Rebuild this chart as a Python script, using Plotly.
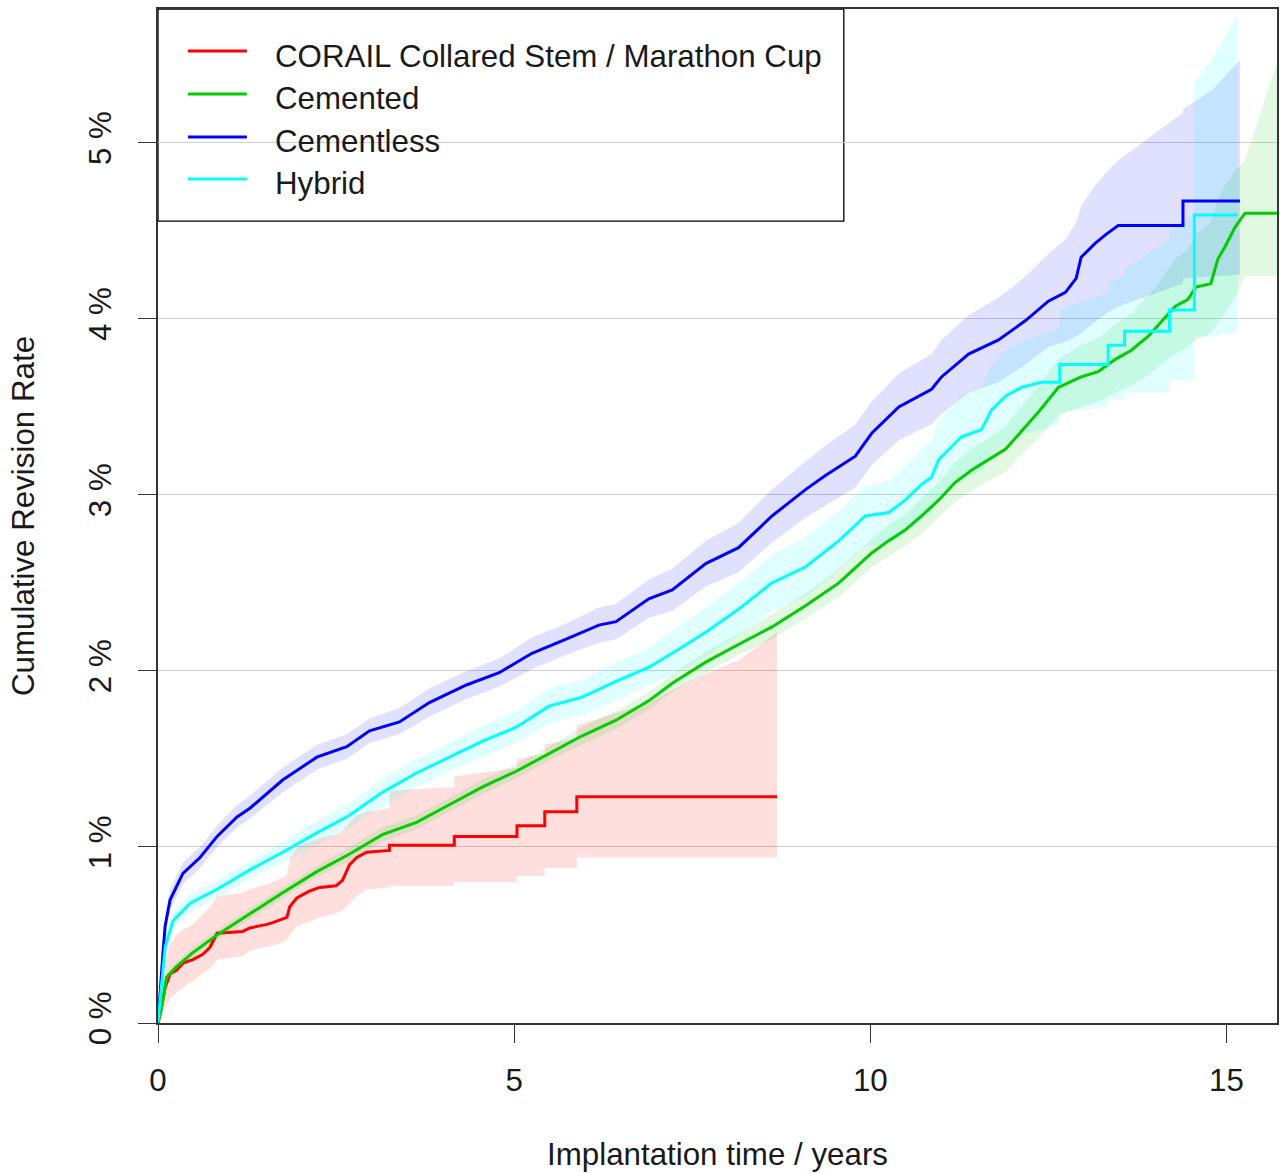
import plotly.graph_objects as go

# ---------------- data ----------------
series_names = ["CORAIL Collared Stem / Marathon Cup", "Cemented", "Cementless", "Hybrid"]
line_colors = ["#FF0000", "#00CD00", "#0000FF", "#00FFFF"]
band_colors = ["rgba(255,0,0,0.13)", "rgba(0,205,0,0.12)", "rgba(0,0,255,0.12)", "rgba(0,255,255,0.12)"]

# CORAIL Collared Stem / Marathon Cup
red_t = [0, 0.05, 0.10, 0.17, 0.26, 0.35, 0.49, 0.63, 0.73, 0.83, 1.19, 1.29, 1.53, 1.61, 1.81, 1.85,
         1.95, 2.13, 2.27, 2.50, 2.59, 2.69, 2.79, 2.93, 3.25, 3.25, 4.16, 4.16, 5.04, 5.04, 5.43, 5.43,
         5.88, 5.88, 6.89, 7.60, 8.15, 8.69]
red_est = [0, 0.09, 0.20, 0.28, 0.30, 0.34, 0.36, 0.39, 0.43, 0.51, 0.52, 0.54, 0.56, 0.57, 0.60, 0.66,
           0.71, 0.75, 0.77, 0.78, 0.81, 0.90, 0.94, 0.97, 0.98, 1.01, 1.01, 1.06, 1.06, 1.12, 1.12, 1.20,
           1.20, 1.285, 1.285, 1.285, 1.285, 1.285]
red_lo = [0, 0.02, 0.08, 0.14, 0.17, 0.20, 0.24, 0.28, 0.31, 0.36, 0.38, 0.41, 0.43, 0.44, 0.47, 0.50,
          0.55, 0.58, 0.60, 0.62, 0.64, 0.68, 0.72, 0.76, 0.77, 0.78, 0.78, 0.80, 0.80, 0.835, 0.835, 0.88,
          0.88, 0.94, 0.94, 0.94, 0.94, 0.94]
red_hi = [0, 0.20, 0.35, 0.45, 0.50, 0.53, 0.56, 0.62, 0.66, 0.72, 0.74, 0.76, 0.79, 0.80, 0.84, 0.93,
          1.00, 1.03, 1.05, 1.07, 1.09, 1.14, 1.18, 1.20, 1.22, 1.32, 1.34, 1.40, 1.45, 1.50, 1.53, 1.58,
          1.62, 1.69, 1.82, 1.97, 2.06, 2.22]

# Cemented
green_t = [0, 0.05, 0.12, 0.26, 0.49, 0.83, 1.29, 1.75, 2.23, 2.69, 3.15, 3.63, 4.09, 4.55, 5.03, 5.49,
           5.95, 6.43, 6.89, 7.22, 7.69, 8.15, 8.62, 9.09, 9.56, 10.02, 10.26, 10.49, 10.72, 10.96, 11.19,
           11.42, 11.66, 11.90, 12.12, 12.36, 12.64, 12.96, 13.20, 13.44, 13.66, 13.90, 14.08, 14.28, 14.46,
           14.57, 14.78, 14.88, 14.98, 15.12, 15.26, 15.50, 15.72]
green_est = [0, 0.09, 0.26, 0.32, 0.40, 0.50, 0.62, 0.74, 0.86, 0.96, 1.07, 1.14, 1.24, 1.34, 1.43, 1.53,
             1.63, 1.72, 1.83, 1.93, 2.05, 2.15, 2.25, 2.37, 2.50, 2.67, 2.74, 2.80, 2.88, 2.97, 3.07,
             3.14, 3.20, 3.26, 3.36, 3.47, 3.61, 3.67, 3.70, 3.77, 3.82, 3.90, 3.98, 4.07, 4.11,
             4.18, 4.20, 4.34, 4.41, 4.52, 4.60, 4.60, 4.60]
green_lo = [0, 0.06, 0.23, 0.29, 0.37, 0.47, 0.59, 0.71, 0.83, 0.92, 1.03, 1.10, 1.20, 1.30, 1.39, 1.49,
            1.58, 1.67, 1.78, 1.88, 1.99, 2.09, 2.18, 2.30, 2.42, 2.59, 2.65, 2.71, 2.78, 2.87, 2.96,
            3.02, 3.08, 3.13, 3.23, 3.32, 3.45, 3.50, 3.53, 3.58, 3.62, 3.68, 3.74, 3.80, 3.84,
            3.88, 3.92, 3.98, 4.03, 4.12, 4.24, 4.24, 4.24]
green_hi = [0, 0.12, 0.29, 0.35, 0.43, 0.53, 0.65, 0.77, 0.89, 1.00, 1.11, 1.18, 1.28, 1.38, 1.47, 1.57,
            1.68, 1.77, 1.88, 1.98, 2.11, 2.21, 2.32, 2.44, 2.58, 2.75, 2.83, 2.89, 2.98, 3.07, 3.18,
            3.26, 3.32, 3.39, 3.50, 3.62, 3.77, 3.85, 3.89, 3.97, 4.03, 4.13, 4.22, 4.34, 4.40,
            4.48, 4.55, 4.68, 4.76, 4.84, 4.90, 5.20, 5.47]

# Cementless
blue_t = [0, 0.03, 0.07, 0.10, 0.17, 0.35, 0.59, 0.83, 1.11, 1.29, 1.75, 2.23, 2.65, 2.97, 3.39, 3.81,
          4.33, 4.79, 5.25, 5.73, 6.19, 6.43, 6.89, 7.22, 7.69, 8.15, 8.62, 9.09, 9.37, 9.79, 10.02, 10.40,
          10.86, 11.00, 11.38, 11.80, 12.18, 12.50, 12.74, 12.89, 12.96, 13.16, 13.31, 13.48, 14.39, 14.39,
          14.80, 15.19]
blue_est = [0, 0.20, 0.40, 0.55, 0.70, 0.85, 0.94, 1.06, 1.17, 1.22, 1.38, 1.51, 1.57, 1.66, 1.71, 1.82,
            1.92, 1.99, 2.10, 2.18, 2.26, 2.28, 2.41, 2.46, 2.61, 2.70, 2.88, 3.03, 3.11, 3.22, 3.35, 3.50,
            3.60, 3.67, 3.80, 3.88, 3.99, 4.10, 4.15, 4.23, 4.35, 4.43, 4.48, 4.53, 4.53, 4.67,
            4.67, 4.67]
blue_lo = [0, 0.15, 0.34, 0.49, 0.64, 0.79, 0.88, 1.00, 1.11, 1.16, 1.31, 1.44, 1.50, 1.59, 1.64, 1.74,
           1.84, 1.91, 2.01, 2.09, 2.16, 2.18, 2.30, 2.34, 2.48, 2.56, 2.73, 2.87, 2.94, 3.04, 3.17, 3.31,
           3.40, 3.46, 3.58, 3.64, 3.74, 3.84, 3.87, 3.90, 3.92, 3.98, 4.03, 4.07, 4.20, 4.23,
           4.24, 4.25]
blue_hi = [0, 0.26, 0.46, 0.61, 0.76, 0.91, 1.00, 1.12, 1.24, 1.29, 1.45, 1.58, 1.64, 1.73, 1.79, 1.90,
           2.00, 2.07, 2.19, 2.27, 2.36, 2.38, 2.52, 2.58, 2.74, 2.84, 3.03, 3.19, 3.28, 3.40, 3.53, 3.69,
           3.80, 3.88, 4.02, 4.12, 4.24, 4.37, 4.45, 4.55, 4.64, 4.76, 4.83, 4.90, 5.17, 5.19,
           5.30, 5.47]

# Hybrid
cyan_t = [0, 0.05, 0.10, 0.21, 0.45, 0.83, 1.29, 1.75, 2.23, 2.69, 3.15, 3.63, 4.09, 4.55, 5.03, 5.49,
          5.95, 6.43, 6.89, 7.22, 7.69, 8.15, 8.62, 9.09, 9.56, 9.93, 10.26, 10.49, 10.72, 10.86, 10.96,
          11.14, 11.28, 11.56, 11.70, 11.90, 12.12, 12.40, 12.66, 12.66, 13.34, 13.34, 13.57, 13.57,
          14.20, 14.20, 14.55, 14.55, 14.75, 14.95, 15.16]
cyan_est = [0, 0.22, 0.43, 0.58, 0.68, 0.76, 0.87, 0.97, 1.08, 1.18, 1.31, 1.42, 1.51, 1.60, 1.68, 1.80,
            1.85, 1.94, 2.02, 2.10, 2.22, 2.35, 2.50, 2.59, 2.74, 2.88, 2.90, 2.97, 3.06, 3.10, 3.20,
            3.27, 3.33, 3.37, 3.48, 3.56, 3.61, 3.64, 3.64, 3.74, 3.74, 3.85, 3.85, 3.93,
            3.93, 4.05, 4.05, 4.59, 4.59, 4.59, 4.59]
cyan_lo = [0, 0.17, 0.38, 0.53, 0.63, 0.71, 0.82, 0.91, 1.01, 1.11, 1.23, 1.34, 1.43, 1.51, 1.59, 1.70,
           1.75, 1.83, 1.92, 1.98, 2.08, 2.20, 2.34, 2.42, 2.57, 2.71, 2.72, 2.78, 2.86, 2.89, 2.98,
           3.04, 3.09, 3.13, 3.23, 3.30, 3.34, 3.37, 3.40, 3.47, 3.50, 3.54, 3.54, 3.58,
           3.58, 3.65, 3.65, 3.90, 3.90, 3.91, 3.92]
cyan_hi = [0, 0.27, 0.48, 0.63, 0.73, 0.81, 0.92, 1.03, 1.15, 1.25, 1.39, 1.50, 1.59, 1.69, 1.77, 1.90,
           1.95, 2.05, 2.13, 2.23, 2.36, 2.50, 2.66, 2.76, 2.91, 3.05, 3.08, 3.16, 3.26, 3.31, 3.42,
           3.50, 3.57, 3.61, 3.73, 3.82, 3.87, 3.91, 3.95, 4.05, 4.15, 4.20, 4.25, 4.28,
           4.45, 4.50, 4.60, 5.34, 5.45, 5.58, 5.74]

series = [
    (red_t, red_est, red_lo, red_hi),
    (green_t, green_est, green_lo, green_hi),
    (blue_t, blue_est, blue_lo, blue_hi),
    (cyan_t, cyan_est, cyan_lo, cyan_hi),
]

y_ticks = [0, 1, 2, 3, 4, 5]
y_ticktext = ["0 %", "1 %", "2 %", "3 %", "4 %", "5 %"]
x_ticks = [0, 5, 10, 15]
x_ticktext = ["0", "5", "10", "15"]

FONT = "Liberation Sans, Arial, sans-serif"
TXT = "#1a1a1a"
FS = 31.3

fig = go.Figure()

# confidence bands (polygons)
for (t, est, lo, hi), col in zip(series, band_colors):
    fig.add_trace(go.Scatter(
        x=list(t) + list(t)[::-1], y=list(lo) + list(hi)[::-1],
        mode="lines", fill="toself", fillcolor=col, line=dict(width=0),
        hoverinfo="skip", showlegend=False))

# estimate lines
for (t, est, lo, hi), name, col in zip(series, series_names, line_colors):
    fig.add_trace(go.Scatter(
        x=t, y=est, mode="lines", name=name,
        line=dict(color=col, width=3), showlegend=False))

# ---- legend box drawn like the R legend (paper coordinates) ----
leg_line_y = [0.9586, 0.9162, 0.8738, 0.8323]
leg_text_y = [0.9527, 0.9117, 0.8698, 0.8284]
shapes = [dict(type="rect", xref="paper", yref="paper",
               x0=0, x1=0.6129, y0=0.7909, y1=1.0,
               line=dict(color="black", width=1.3), fillcolor="white", layer="between")]
annotations = []
for name, col, ly, ty in zip(series_names, line_colors, leg_line_y, leg_text_y):
    shapes.append(dict(type="line", xref="paper", yref="paper",
                       x0=0.0268, x1=0.0794, y0=ly, y1=ly,
                       line=dict(color=col, width=3), layer="above"))
    annotations.append(dict(text=name, xref="paper", yref="paper", x=0.1026, y=ty,
                            xanchor="left", yanchor="middle", showarrow=False,
                            font=dict(family=FONT, size=FS, color=TXT)))

fig.update_layout(
    width=1285, height=1173,
    margin=dict(l=158, r=6, t=9, b=150),
    paper_bgcolor="white", plot_bgcolor="white",
    font=dict(family=FONT, size=FS, color=TXT),
    showlegend=False,
    shapes=shapes, annotations=annotations,
    xaxis=dict(
        range=[0, 15.71], tickmode="array", tickvals=x_ticks, ticktext=x_ticktext,
        ticks="outside", ticklen=18, tickwidth=1.3, tickcolor="#333",
        showline=True, linecolor="#333", linewidth=1.5, mirror=True,
        showgrid=False, zeroline=False,
        tickfont=dict(family=FONT, size=FS, color=TXT), ticklabelstandoff=11,
        title=dict(text="Implantation time / years", font=dict(family=FONT, size=FS, color=TXT), standoff=46),
    ),
    yaxis=dict(
        range=[0, 5.76], tickmode="array", tickvals=y_ticks, ticktext=y_ticktext, tickangle=-90,
        ticks="outside", ticklen=18, tickwidth=1.3, tickcolor="#333",
        showline=True, linecolor="#333", linewidth=1.5, mirror=True,
        showgrid=True, gridcolor="#D0D0D0", gridwidth=1.2, zeroline=False,
        tickfont=dict(family=FONT, size=FS, color=TXT), ticklabelstandoff=15,
        title=dict(text="Cumulative Revision Rate", font=dict(family=FONT, size=FS, color=TXT), standoff=39),
    ),
)

fig.write_html("out.html", config={"displayModeBar": False},
               post_script="document.body.style.margin='0px';")
